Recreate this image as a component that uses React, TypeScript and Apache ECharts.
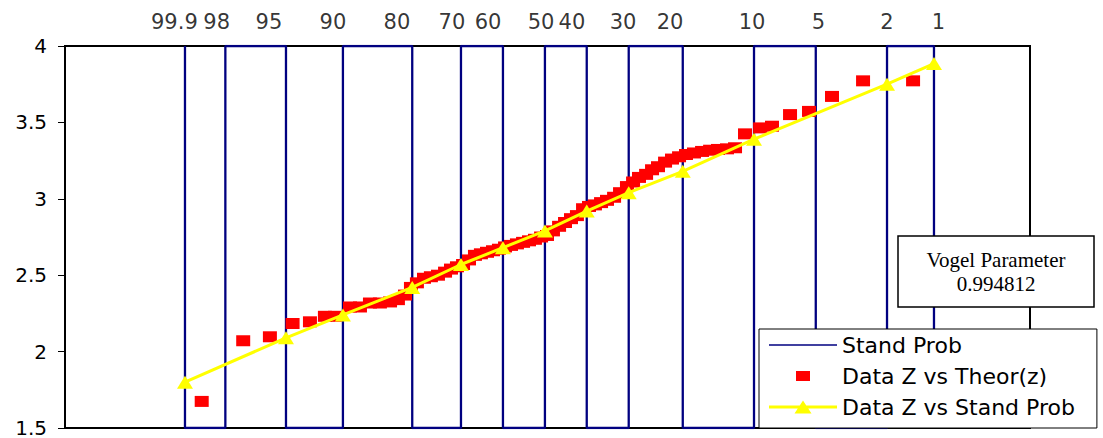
import React, { useEffect, useRef } from 'react';
import * as echarts from 'echarts';

// Probability labels (exceedance %) and positions on the standard-variate axis
const standLabels = ['99.9', '98', '95', '90', '80', '70', '60', '50', '40', '30', '20', '10', '5', '2', '1'];
const standZ = [-2.254, -2.003, -1.626, -1.272, -0.841, -0.538, -0.277, -0.016, 0.244, 0.505, 0.841, 1.284, 1.668, 2.111, 2.403];
const labelZ = [-2.32, -2.057, -1.732, -1.334, -0.936, -0.594, -0.37, -0.04, 0.152, 0.47, 0.762, 1.272, 1.685, 2.111, 2.43];

// Data Z vs Theor(z)
const theorZ = [
  -2.15, -1.892, -1.726, -1.585, -1.477, -1.384, -1.322, -1.228, -1.166, -1.104, -1.042, -0.979, -0.93, -0.886, -0.849,
  -0.812, -0.768, -0.725, -0.681, -0.637, -0.6, -0.563, -0.525, -0.488, -0.451, -0.414, -0.376, -0.339, -0.302, -0.264, -0.227,
  -0.19, -0.152, -0.115, -0.078, -0.04, -0.003, 0.034, 0.072, 0.109, 0.146, 0.183, 0.221, 0.258, 0.295, 0.333, 0.37,
  0.414, 0.451, 0.494, 0.532, 0.569, 0.613, 0.65, 0.687, 0.731, 0.774, 0.818, 0.861, 0.911, 0.961, 1.011, 1.06, 1.116, 1.166,
  1.228, 1.322, 1.396, 1.508, 1.626, 1.769, 1.962, 2.273,
];
const dataZ = [
  1.674, 2.071, 2.097, 2.184, 2.195, 2.231, 2.231, 2.292, 2.292, 2.318, 2.318, 2.325, 2.34, 2.37, 2.42,
  2.45, 2.48, 2.49, 2.5, 2.52, 2.54, 2.555, 2.57, 2.6, 2.63, 2.64, 2.65, 2.66, 2.67, 2.685, 2.695,
  2.705, 2.715, 2.725, 2.735, 2.75, 2.76, 2.79, 2.82, 2.845, 2.87, 2.89, 2.935, 2.95, 2.96, 2.975, 2.99,
  3.01, 3.04, 3.08, 3.11, 3.14, 3.16, 3.19, 3.21, 3.24, 3.26, 3.275, 3.29, 3.3, 3.31, 3.318, 3.323, 3.327, 3.334,
  3.425, 3.464, 3.475, 3.551, 3.572, 3.67, 3.772, 3.772,
];

// Data Z vs Stand Prob
const standProbX = [-2.254, -1.626, -1.272, -0.841, -0.538, -0.277, -0.016, 0.244, 0.505, 0.841, 1.284, 2.111, 2.403];
const standProbY = [1.8, 2.09, 2.24, 2.42, 2.57, 2.68, 2.79, 2.92, 3.04, 3.18, 3.39, 3.75, 3.885];

const yMin = 1.5;
const yMax = 4;
const yStep = 0.5;
const xMin = -3;
const xMax = 3;

const vogelTitle = 'Vogel Parameter';
const vogelValue = '0.994812';

const NAVY = '#000080';
const RED = '#FF0000';
const YELLOW = '#FFFF00';
const SANS = '"DejaVu Sans", Arial, sans-serif';

function buildOption() {
  // zig-zag line through all probability verticals (as in spreadsheet)
  const standData: number[][] = [];
  standZ.forEach((z, i) => {
    if (i % 2 === 0) {
      standData.push([z, yMax], [z, yMin]);
    } else {
      standData.push([z, yMin], [z, yMax]);
    }
  });

  return {
    animation: false,
    backgroundColor: '#fff',
    grid: {
      left: 65,
      top: 46,
      right: 73,
      bottom: 8,
      show: true,
      borderColor: '#000',
      borderWidth: 2,
      backgroundColor: 'transparent',
    },
    xAxis: {
      type: 'value',
      min: xMin,
      max: xMax,
      show: false,
    },
    yAxis: {
      type: 'value',
      min: yMin,
      max: yMax,
      interval: yStep,
      position: 'left',
      axisLine: { show: false, onZero: false },
      axisTick: { show: true, length: 7, lineStyle: { color: '#000', width: 1 } },
      splitLine: { show: false },
      axisLabel: { color: '#000', fontSize: 20, fontFamily: SANS, margin: 18 },
    },
    legend: {
      orient: 'vertical',
      left: 759,
      top: 329,
      padding: [5, 22, 10, 10],
      itemGap: 9,
      itemWidth: 68,
      itemHeight: 14,
      backgroundColor: '#fff',
      borderColor: '#000',
      borderWidth: 1,
      borderRadius: 0,
      itemStyle: { borderWidth: 0 },
      textStyle: { color: '#000', fontSize: 22, fontFamily: SANS, lineHeight: 22 },
      data: [
        { name: 'Stand Prob', icon: 'path://M0,0M68,14M0,6.25h68v1.5h-68z' },
        { name: 'Data Z vs Theor(z)', icon: 'path://M0,0M68,14M27,2h14v10h-14z' },
        { name: 'Data Z vs Stand Prob', icon: 'path://M0,0M68,14M0,5.5h68v3h-68zM34,0.5L42.5,13.5H25.5z' },
      ],
      z: 10,
    },
    graphic: [
      {
        type: 'group',
        z: 100,
        children: [
          {
            type: 'rect',
            shape: { x: 898, y: 236, width: 196, height: 71 },
            style: { fill: '#fff', stroke: '#000', lineWidth: 1.5 },
            z: 100,
          },
          {
            type: 'text',
            x: 996,
            y: 271.5,
            z: 101,
            style: {
              text: vogelTitle + '\n' + vogelValue,
              fill: '#000',
              font: '21px "Liberation Serif", "Times New Roman", serif',
              lineHeight: 24,
              align: 'center',
              verticalAlign: 'middle',
            },
          },
        ],
      },
    ],
    series: [
      {
        name: 'Stand Prob',
        type: 'line',
        data: standData,
        symbol: 'none',
        lineStyle: { color: NAVY, width: 2.3 },
        itemStyle: { color: NAVY },
        z: 1,
        silent: true,
      },
      {
        name: 'Data Z vs Theor(z)',
        type: 'scatter',
        data: theorZ.map((z, i) => [z, dataZ[i]]),
        symbol: 'rect',
        symbolSize: [14, 11],
        itemStyle: { color: RED, borderWidth: 0, opacity: 1 },
        z: 2,
        silent: true,
      },
      {
        name: 'Data Z vs Stand Prob',
        type: 'line',
        data: standProbX.map((z, i) => [z, standProbY[i]]),
        symbol: 'triangle',
        symbolSize: [16, 13],
        showAllSymbol: true,
        lineStyle: { color: YELLOW, width: 3 },
        itemStyle: { color: YELLOW, borderWidth: 0, opacity: 1 },
        z: 3,
        silent: true,
      },
      {
        name: 'probLabels',
        type: 'scatter',
        data: labelZ.map((z, i) => ({ name: standLabels[i], value: [z, yMax] })),
        symbolSize: 0,
        clip: false,
        silent: true,
        label: {
          show: true,
          position: 'top',
          distance: 14,
          formatter: '{b}',
          color: '#000',
          fontSize: 21,
          fontFamily: SANS,
        },
        z: 4,
      },
    ],
  };
}

export default function App() {
  const ref = useRef<HTMLDivElement>(null);
  useEffect(() => {
    document.body.style.margin = '0';
    const chart = echarts.init(ref.current as HTMLDivElement, null, { renderer: 'svg' });
    chart.setOption(buildOption() as any);
    return () => {
      chart.dispose();
    };
  }, []);
  return <div ref={ref} style={{ width: 1103, height: 438 }} />;
}
